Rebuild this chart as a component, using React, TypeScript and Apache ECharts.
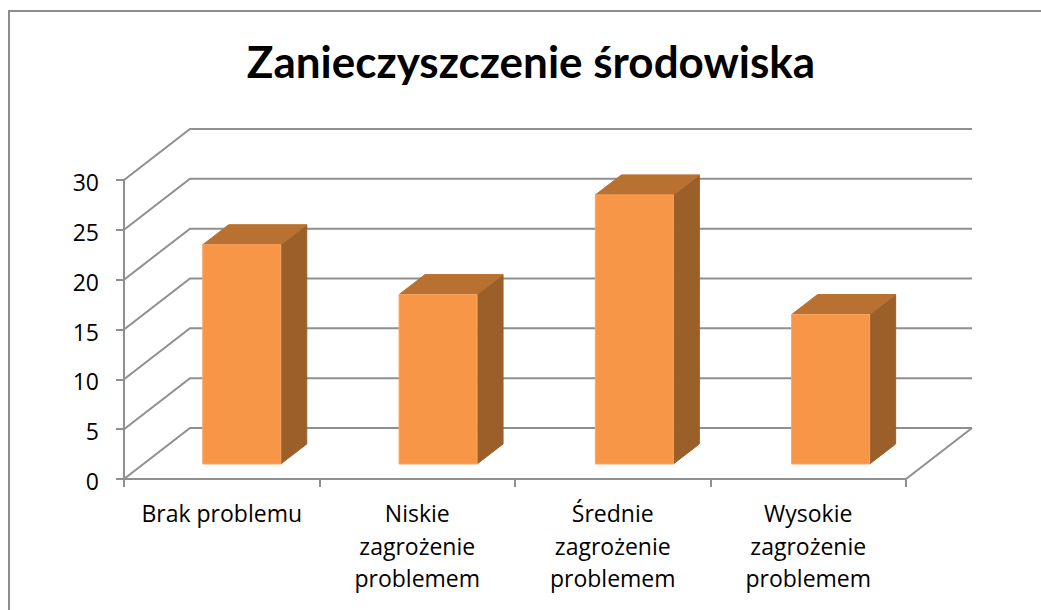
import React, { useEffect, useRef } from "react";
import * as echarts from "echarts";

const categories = [
  "Brak problemu",
  "Niskie\nzagrożenie\nproblemem",
  "Średnie\nzagrożenie\nproblemem",
  "Wysokie\nzagrożenie\nproblemem",
];
const values = [22, 17, 27, 15];
const wallTicks = [0, 5, 10, 15, 20, 25, 30];
const titleText = "Zanieczyszczenie środowiska";

const GRID = "#8f8f8f";
const FRONT = "#f79646";
const TOP = "#b97131";
const SIDE = "#9b5f2a";
const WALL_DX = 66;
const WALL_DY = 51;
const BAR_W = 78;
const BAR_DX = 26;
const BAR_DY = 20;
const BAR_SHIFT_X = 20;
const BAR_DRIFT = 0.8;
const BAR_SHIFT_Y = 15;

export default function App() {
  const ref = useRef<HTMLDivElement>(null);
  useEffect(() => {
    const chart = echarts.init(ref.current!, null, { renderer: "svg" });
    chart.setOption({
      animation: false,
      backgroundColor: "#fff",
      title: {
        text: titleText,
        left: 526,
        top: 34,
        textAlign: "center",
        textStyle: { fontFamily: "Lato", fontWeight: "bold", fontSize: 44, color: "#000" },
      },
      graphic: [
        {
          type: "rect",
          z: -1,
          silent: true,
          shape: { x: 9, y: 11, width: 1080, height: 660 },
          style: { fill: "#fff", stroke: "#8c8c8c", lineWidth: 2 },
        },
      ],
      grid: { left: 124, top: 180, width: 782, height: 299 },
      xAxis: {
        type: "category",
        data: categories,
        axisLine: { lineStyle: { color: GRID, width: 2 } },
        axisTick: { show: true, length: 8, lineStyle: { color: GRID, width: 2 } },
        axisLabel: {
          interval: 0,
          margin: 18,
          fontFamily: "Open Sans",
          fontSize: 23,
          lineHeight: 32.5,
          color: "#000",
        },
      },
      yAxis: {
        type: "value",
        min: 0,
        max: 30,
        interval: 5,
        splitLine: { show: false },
        axisLine: { show: true, lineStyle: { color: GRID, width: 2 } },
        axisTick: { show: true, length: 8, lineStyle: { color: GRID, width: 2 } },
        axisLabel: {
          margin: 25,
          formatter: (v: number) => `{n|${v}}`,
          rich: {
            n: {
              padding: [4, 0, 0, 0],
              fontFamily: "Open Sans",
              fontSize: 23,
              color: "#000",
            },
          },
        },
      },
      series: [
        {
          type: "custom",
          coordinateSystem: "cartesian2d",
          z: 1,
          silent: true,
          encode: { y: 0 },
          data: wallTicks.map((t) => [t]),
          renderItem: (_p: any, api: any) => {
            const left = api.coord([0, api.value(0)]);
            const band = api.size([1, 0])[0];
            const x0 = left[0] - band / 2;
            const x1 = x0 + band * categories.length;
            const y = left[1];
            const style = { stroke: GRID, lineWidth: 2, fill: "none" };
            const children: any[] = [
              {
                type: "polyline",
                shape: {
                  points: [
                    [x0, y],
                    [x0 + WALL_DX, y - WALL_DY],
                    [x1 + WALL_DX, y - WALL_DY],
                  ],
                },
                style,
              },
            ];
            if (api.value(0) === 0) {
              children.push({
                type: "line",
                shape: { x1, y1: y, x2: x1 + WALL_DX, y2: y - WALL_DY },
                style,
              });
            }
            return { type: "group", children };
          },
        },
        {
          type: "custom",
          coordinateSystem: "cartesian2d",
          z: 2,
          silent: true,
          encode: { x: 0, y: 1 },
          data: values.map((v, i) => [i, v]),
          renderItem: (_p: any, api: any) => {
            const base = api.coord([api.value(0), 0]);
            const top = api.coord([api.value(0), api.value(1)]);
            const xl = base[0] - BAR_W / 2 + BAR_SHIFT_X + api.value(0) * BAR_DRIFT;
            const xr = xl + BAR_W;
            const yb = base[1] - BAR_SHIFT_Y;
            const yt = top[1] - BAR_SHIFT_Y;
            const edge = (stroke: string) => ({ stroke, lineWidth: 1 });
            return {
              type: "group",
              children: [
                {
                  type: "polygon",
                  shape: {
                    points: [
                      [xr, yt],
                      [xr + BAR_DX, yt - BAR_DY],
                      [xr + BAR_DX, yb - BAR_DY],
                      [xr, yb],
                    ],
                  },
                  style: { fill: SIDE, ...edge(SIDE) },
                },
                {
                  type: "polygon",
                  shape: {
                    points: [
                      [xl, yt],
                      [xl + BAR_DX, yt - BAR_DY],
                      [xr + BAR_DX, yt - BAR_DY],
                      [xr, yt],
                    ],
                  },
                  style: { fill: TOP, ...edge(TOP) },
                },
                {
                  type: "rect",
                  shape: { x: xl, y: yt, width: BAR_W, height: yb - yt },
                  style: { fill: FRONT, ...edge("#f9a566") },
                },
              ],
            };
          },
        },
      ],
    });
    return () => chart.dispose();
  }, []);
  return <div ref={ref} style={{ position: "fixed", left: 0, top: 0, width: 1041, height: 610 }} />;
}
